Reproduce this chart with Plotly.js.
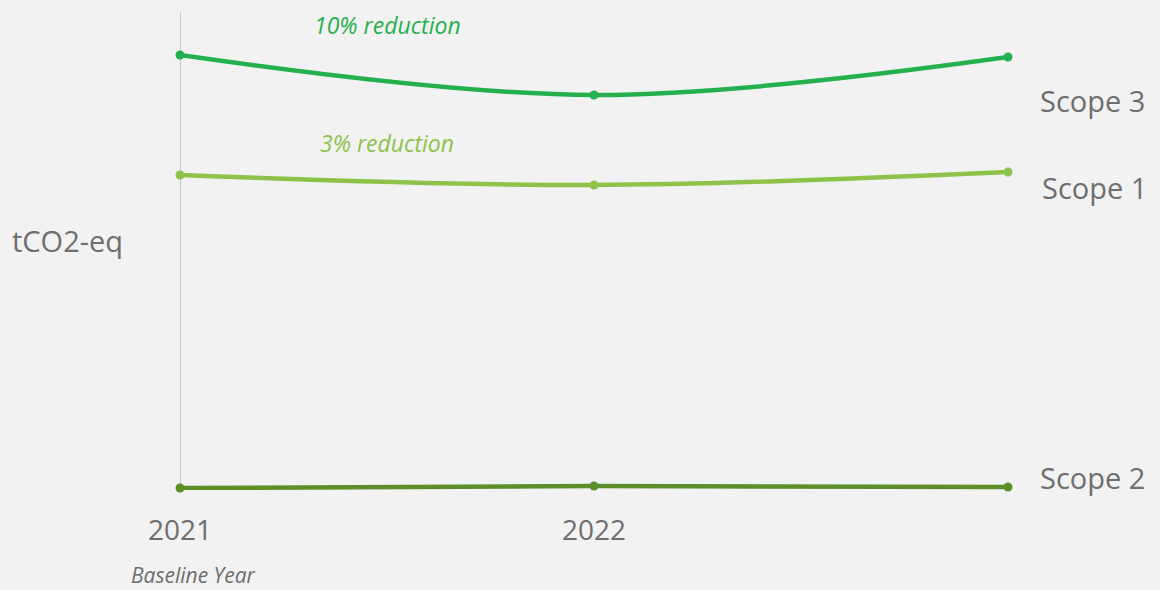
<!DOCTYPE html>
<html>
<head>
<meta charset="utf-8">
<script src="https://cdn.plot.ly/plotly-3.0.1.min.js"></script>
<style>
html,body{margin:0;padding:0;background:#f2f2f2;}
#chart{width:1160px;height:590px;}
</style>
</head>
<body>
<div id="chart"></div>
<script>
const years = [2021, 2022, 2023];
const tickYears = [2021, 2022];
const tickLabels = ['2021', '2022'];
const scope3 = [4350, 3950, 4330];
const scope1 = [3150, 3050, 3180];
const scope2 = [20, 40, 30];
const seriesNames = ['Scope 3', 'Scope 1', 'Scope 2'];
const reductionLabels = ['10% reduction', '3% reduction'];

const colors = ['#24b04e', '#8cc34a', '#5a8f2a'];
const gray = '#6e6e6e';
const font = '"Open Sans", "Noto Sans", sans-serif';

function line(y, c, name) {
  return {
    x: years, y: y, name: name, type: 'scatter', mode: 'lines+markers',
    line: {color: c, width: 4.5, shape: 'spline', smoothing: 1},
    marker: {color: c, size: 9},
    cliponaxis: false, hoverinfo: 'x+y+name'
  };
}

const data = [
  line(scope3, colors[0], seriesNames[0]),
  line(scope1, colors[1], seriesNames[1]),
  line(scope2, colors[2], seriesNames[2])
];

const labelShifts = [-43, -15, 10];
const labelX = [30, 32, 30];
const series = [scope3, scope1, scope2];
const annotations = [];
series.forEach((s, i) => {
  annotations.push({
    x: years[2], y: s[2], xref: 'x', yref: 'y', text: seriesNames[i],
    showarrow: false, xanchor: 'left', xshift: labelX[i], yshift: labelShifts[i],
    font: {family: font, size: 29, color: gray}
  });
});
annotations.push({
  x: 2021.5, y: scope3[0], xref: 'x', yref: 'y', text: '<i>' + reductionLabels[0] + '</i>',
  showarrow: false, xanchor: 'center', yshift: 30,
  font: {family: font, size: 23, color: colors[0]}
});
annotations.push({
  x: 2021.5, y: scope1[0], xref: 'x', yref: 'y', text: '<i>' + reductionLabels[1] + '</i>',
  showarrow: false, xanchor: 'center', yshift: 32,
  font: {family: font, size: 23, color: colors[1]}
});
annotations.push({
  x: (10 - 180) / 828, y: (490 - 240) / 478, xref: 'paper', yref: 'paper', text: 'tCO2-eq',
  showarrow: false, xanchor: 'left', yanchor: 'middle',
  font: {family: font, size: 29, color: gray}
});
annotations.push({
  x: 2021, y: 0, xref: 'x', yref: 'paper', text: '<i>Baseline Year</i>',
  showarrow: false, xanchor: 'center', yanchor: 'middle', xshift: 13, yshift: -85,
  font: {family: font, size: 21, color: gray}
});

const layout = {
  width: 1160, height: 590,
  margin: {l: 180, r: 152, t: 12, b: 100, pad: 0},
  paper_bgcolor: '#f2f2f2', plot_bgcolor: '#f2f2f2',
  showlegend: false,
  xaxis: {
    range: [2021, 2023], tickvals: tickYears, ticktext: tickLabels,
    showgrid: false, zeroline: false, showline: false, ticks: '',
    ticklabelstandoff: 21,
    tickfont: {family: font, size: 28, color: gray}
  },
  yaxis: {
    range: [0, 4780], showgrid: false, zeroline: false,
    showline: false, showticklabels: false, ticks: ''
  },
  shapes: [{
    type: 'line', xref: 'x', yref: 'paper', x0: 2021, x1: 2021, y0: scope2[0] / 4780, y1: 1,
    line: {color: '#c8c8c8', width: 2}, layer: 'below'
  }],
  annotations: annotations
};

Plotly.newPlot('chart', data, layout, {displayModeBar: false, staticPlot: true});
</script>
</body>
</html>
